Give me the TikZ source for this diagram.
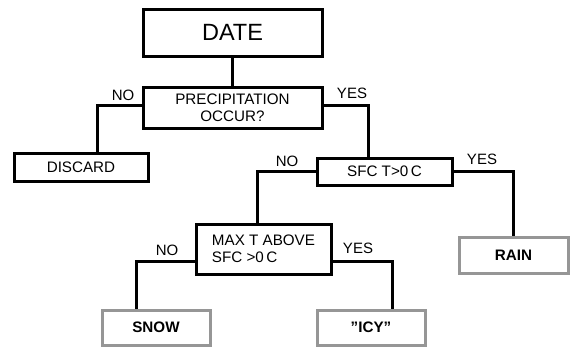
\documentclass[tikz,border=0pt]{standalone}
\usepackage{fontspec}
\setmainfont{Liberation Sans}
\usetikzlibrary{positioning}
\definecolor{leafgray}{RGB}{150,150,150}
\tikzset{
	question/.style={draw=black, line width=3pt, inner sep=0pt, align=center,
		font=\fontsize{15.2}{17}\selectfont},
	outcome/.style={draw=leafgray, line width=3pt, inner sep=0pt,
		font=\fontsize{15.2}{17}\selectfont\bfseries},
	branch/.style={line width=3pt},
	answer/.style={inner sep=0pt, font=\fontsize{15}{17}\selectfont}
}
\begin{document}
\begin{tikzpicture}[x=1pt, y=-1pt]
	\useasboundingbox (0,0) rectangle (570,346);
	% decision boxes
	\node[question, minimum width=179pt, minimum height=47pt, font=\fontsize{23.5}{26}\selectfont] (date) at (232.5,32.5) {DATE};
	\node[question, minimum width=179pt, minimum height=41pt] (precip) at (232.5,107.5) {PRECIPITATION\\OCCUR?};
	\node[question, minimum width=134pt, minimum height=28pt] (discard) at (81,167) {DISCARD};
	\node[question, minimum width=135pt, minimum height=27pt] (sfc) at (384.5,171.5) {SFC T>0\,C};
	\node[question, minimum width=135pt, minimum height=50pt, align=left] (maxt) at (263.5,249) {MAX T ABOVE\\SFC >0\,C};
	% final outcomes
	\node[outcome, minimum width=109pt, minimum height=36pt] (rain) at (513.5,255) {RAIN};
	\node[outcome, minimum width=108pt, minimum height=35pt] (snow) at (156,327.5) {SNOW};
	\node[outcome, minimum width=108pt, minimum height=35pt] (icy) at (371,327.5) {\symbol{34}ICY\symbol{34}};
	% connectors
	\draw[branch] (date.south) -- (precip.north);
	\draw[branch] ([yshift=2pt]precip.west) -| ([xshift=16pt]discard.north);
	\draw[branch] ([yshift=2pt]precip.east) -| ([xshift=-16.5pt]sfc.north);
	\draw[branch] (sfc.west) -| ([xshift=-6.5pt]maxt.north);
	\draw[branch] (sfc.east) -| (rain.north);
	\draw[branch] ([yshift=-12pt]maxt.west) -| ([xshift=-20pt]snow.north);
	\draw[branch] ([yshift=-12pt]maxt.east) -| ([xshift=21pt]icy.north);
	% branch labels
	\node[answer] (no1) at (123,95) {NO};
	\node[answer] (yes1) at (352,93) {YES};
	\node[answer] (no2) at (287,161) {NO};
	\node[answer] (yes2) at (482,159) {YES};
	\node[answer] (no3) at (167,250) {NO};
	\node[answer] (yes3) at (358,248) {YES};
\end{tikzpicture}
\end{document}
